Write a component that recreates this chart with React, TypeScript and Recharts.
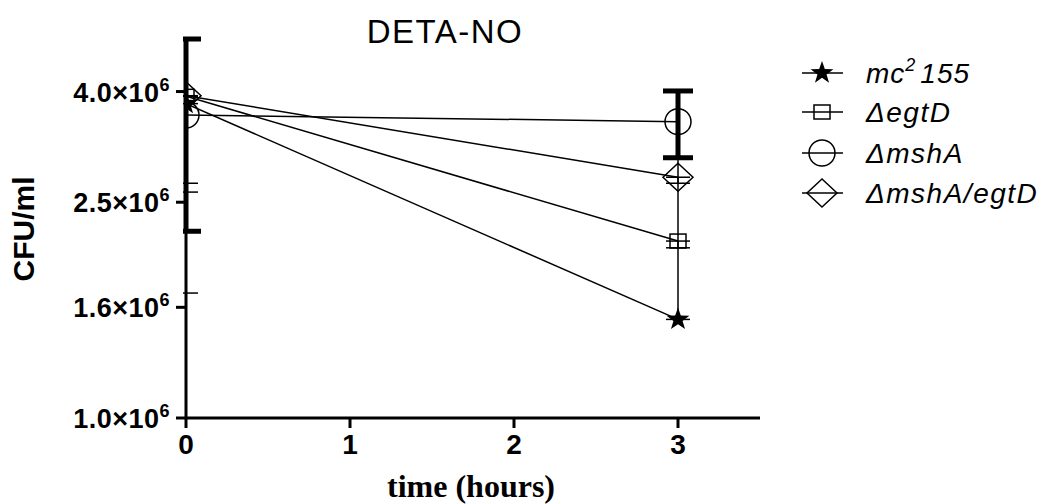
import { LineChart, Line, XAxis, YAxis, ErrorBar } from "recharts";

// time points (hours)
const times = [0, 3];

// CFU/ml
const mc2155 = [3.8e6, 1.52e6];
const mc2155Low = [1.7e6, 1.52e6];
const mc2155High = [3.8e6, 3.0e6];

const egtD = [3.92e6, 2.12e6];
const egtDLow = [2.61e6, 2.06e6];
const egtDHigh = [3.92e6, 2.12e6];

const mshA = [3.62e6, 3.52e6];
const mshALow = [2.21e6, 3.02e6];
const mshAHigh = [5.0e6, 4.01e6];

const mshAegtD = [3.93e6, 2.78e6];
const mshAegtDLow = [2.71e6, 2.71e6];
const mshAegtDHigh = [3.93e6, 2.78e6];

const yTicks = [1.0e6, 1.6e6, 2.5e6, 4.0e6];
const xTicks = [0, 1, 2, 3];

const FONT = "'Liberation Sans', Arial, sans-serif";

const data = times.map((t, i) => ({
  time: t,
  mc2155: mc2155[i],
  mc2155Err: [mc2155[i] - mc2155Low[i], mc2155High[i] - mc2155[i]],
  egtD: egtD[i],
  egtDErr: [egtD[i] - egtDLow[i], egtDHigh[i] - egtD[i]],
  mshA: mshA[i],
  mshAErr: [mshA[i] - mshALow[i], mshAHigh[i] - mshA[i]],
  mshAegtD: mshAegtD[i],
  mshAegtDErr: [mshAegtD[i] - mshAegtDLow[i], mshAegtDHigh[i] - mshAegtD[i]],
}));

const starPath = (cx: number, cy: number, R: number, r: number) => {
  let d = "";
  for (let k = 0; k < 10; k++) {
    const rad = k % 2 === 0 ? R : r;
    const a = -Math.PI / 2 + (k * Math.PI) / 5;
    d += (k === 0 ? "M" : "L") + (cx + rad * Math.cos(a)) + "," + (cy + rad * Math.sin(a));
  }
  return d + "Z";
};

const Star = ({ cx, cy }: any) => <path d={starPath(cx, cy, 12, 4.8)} fill="#000" />;
const Square = ({ cx, cy }: any) => (
  <rect x={cx - 8} y={cy - 7} width={16} height={14} fill="none" stroke="#000" strokeWidth={1.5} />
);
const Circle = ({ cx, cy }: any) => (
  <circle cx={cx} cy={cy} r={13} fill="none" stroke="#000" strokeWidth={1.5} />
);
const Diamond = ({ cx, cy }: any) => (
  <path
    d={`M${cx},${cy - 14}L${cx + 15},${cy}L${cx},${cy + 14}L${cx - 15},${cy}Z`}
    fill="none"
    stroke="#000"
    strokeWidth={1.5}
  />
);

const YTick = ({ x, y, payload }: any) => {
  const mant = (payload.value / 1e6).toFixed(1);
  return (
    <text
      x={x}
      y={y}
      dy={10}
      textAnchor="end"
      fontFamily={FONT}
      fontWeight="bold"
      fontSize={27}
      letterSpacing={0.5}
      fill="#000"
    >
      {mant}×10
      <tspan dy={-11} fontSize={18}>6</tspan>
    </text>
  );
};

const XTick = ({ x, y, payload }: any) => (
  <text x={x} y={y} dy={22} textAnchor="middle" fontFamily={FONT} fontWeight="bold" fontSize={28} fill="#000">
    {payload.value}
  </text>
);

const legendRows = [73, 112, 153, 193];

export default function App() {
  return (
    <div style={{ position: "absolute", left: 0, top: 0, background: "#fff" }}>
      {/* error bars are clipped to the plot area, like the original */}
      <style>{`.recharts-errorBar { clip-path: url(#ebClip); }`}</style>
      <LineChart width={1045} height={504} data={data} margin={{ top: 39, right: 285, left: 0, bottom: 0 }}>
        <defs>
          <clipPath id="ebClip">
            <rect x={183} y={0} width={862} height={504} />
          </clipPath>
        </defs>
        <XAxis
          dataKey="time"
          type="number"
          domain={[0, 3.5]}
          ticks={xTicks}
          height={86}
          allowDataOverflow
          stroke="#000"
          strokeWidth={3}
          tickSize={10}
          tickMargin={4}
          tick={<XTick />}
        />
        <YAxis
          type="number"
          scale="log"
          domain={[1e6, 5e6]}
          ticks={yTicks}
          width={186}
          allowDataOverflow
          stroke="#000"
          strokeWidth={3}
          tickSize={10}
          tickMargin={6}
          tick={<YTick />}
        />
        <Line dataKey="mc2155" stroke="#000" strokeWidth={1.5} dot={<Star />} isAnimationActive={false}>
          <ErrorBar dataKey="mc2155Err" direction="y" width={12} stroke="#000" strokeWidth={1.5} />
        </Line>
        <Line dataKey="egtD" stroke="#000" strokeWidth={1.5} dot={<Square />} isAnimationActive={false}>
          <ErrorBar dataKey="egtDErr" direction="y" width={12} stroke="#000" strokeWidth={1.5} />
        </Line>
        <Line dataKey="mshA" stroke="#000" strokeWidth={1.5} dot={<Circle />} isAnimationActive={false}>
          <ErrorBar dataKey="mshAErr" direction="y" width={15} stroke="#000" strokeWidth={5} />
        </Line>
        <Line dataKey="mshAegtD" stroke="#000" strokeWidth={1.5} dot={<Diamond />} isAnimationActive={false}>
          <ErrorBar dataKey="mshAegtDErr" direction="y" width={12} stroke="#000" strokeWidth={1.5} />
        </Line>

        <text x={445} y={43} textAnchor="middle" fontFamily={FONT} fontSize={33} letterSpacing={1.5} fill="#000">
          DETA-NO
        </text>
        <text
          x={0}
          y={0}
          transform="translate(34,229) rotate(-90)"
          textAnchor="middle"
          fontFamily={FONT}
          fontWeight="bold"
          fontSize={30}
          fill="#000"
        >
          CFU/ml
        </text>
        <text
          x={471}
          y={497}
          textAnchor="middle"
          fontFamily="'Liberation Serif', 'Times New Roman', serif"
          fontWeight="bold"
          fontSize={32}
          fill="#000"
        >
          time (hours)
        </text>

        {/* legend */}
        {legendRows.map((ry) => (
          <line key={ry} x1={802} x2={843} y1={ry} y2={ry} stroke="#000" strokeWidth={1.5} />
        ))}
        <Star cx={822} cy={legendRows[0]} />
        <Square cx={822} cy={legendRows[1]} />
        <Circle cx={822} cy={legendRows[2]} />
        <Diamond cx={822} cy={legendRows[3]} />
        <text x={866} y={legendRows[0] + 10} fontFamily={FONT} fontStyle="italic" fontSize={28} letterSpacing={1} fill="#000">
          mc<tspan dy={-12} fontSize={18}>2</tspan>
          <tspan dy={12} dx={4}>155</tspan>
        </text>
        <text x={866} y={legendRows[1] + 10} fontFamily={FONT} fontStyle="italic" fontSize={28} letterSpacing={1.5} fill="#000">
          ΔegtD
        </text>
        <text x={866} y={legendRows[2] + 10} fontFamily={FONT} fontStyle="italic" fontSize={28} letterSpacing={1.5} fill="#000">
          ΔmshA
        </text>
        <text x={866} y={legendRows[3] + 10} fontFamily={FONT} fontStyle="italic" fontSize={28} letterSpacing={1.5} fill="#000">
          ΔmshA/egtD
        </text>
      </LineChart>
    </div>
  );
}
